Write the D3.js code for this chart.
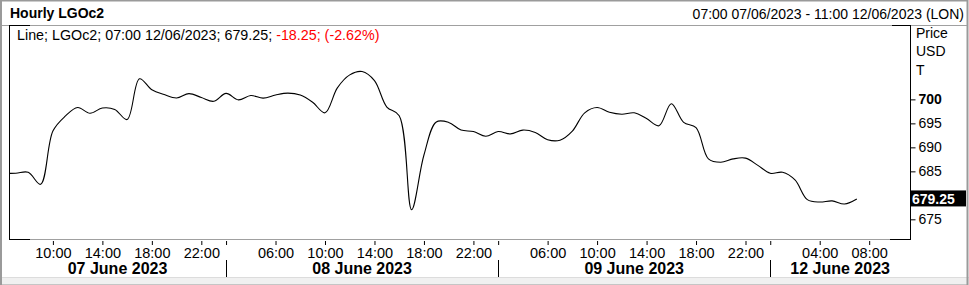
<html lang="en">
<head>
  <script src="https://d3js.org/d3.v7.min.js"></script>
  <style>
    body { margin: 0; background: white; }
    svg { font-family: Arial, "Liberation Sans", sans-serif; }
  </style>
</head>
<body>
  <svg id="chart" width="969" height="285"></svg>
  <script>
    // hourly bar index (trading hours only), -1 = 06:00 07/06 (clipped)
    const barIndex = d3.range(-1, 69);
    const prices = [
      684.6, 684.6, 684.8, 682.3, 693.4, 696.5, 698.3, 697.1, 698.2, 697.9,
      695.8, 704.3, 702.0, 701.0, 700.3, 701.2, 700.4, 699.6, 701.25, 699.9,
      700.8, 700.25, 700.9, 701.3, 700.9, 699.4, 697.2, 702.4, 705.1, 705.8,
      703.9, 698.4, 696.6, 677.0, 688.4, 695.3, 695.2, 693.6, 693.3, 692.3,
      693.3, 692.8, 693.6, 693.1, 691.6, 691.5, 693.4, 697.2, 698.3, 697.3,
      696.9, 697.2, 696.0, 694.5, 699.1, 695.2, 694.1, 687.6, 686.9, 687.6,
      687.75, 686.25, 684.6, 684.8, 683.2, 679.1, 678.6, 678.85, 678.2, 679.25
    ];

    const hourTickIdx = [3, 7, 11, 15, 21, 25, 29, 33, 37, 43, 47, 51, 55, 59, 65, 69];
    const hourTickLabels = ["10:00", "14:00", "18:00", "22:00", "06:00", "10:00", "14:00", "18:00",
                            "22:00", "06:00", "10:00", "14:00", "18:00", "22:00", "04:00", "08:00"];
    const dayBoundIdx = [17, 39, 61];
    const dayLabels = ["07 June 2023", "08 June 2023", "09 June 2023", "12 June 2023"];
    const priceTicks = [675, 685, 690, 695, 700];
    const lastPrice = 679.25;

    const svg = d3.select("#chart");
    const W = 969, H = 285;
    const plot = { left: 9, right: 910, top: 25, bottom: 239 };

    const x = d3.scaleLinear().domain([-0.55, 72.3]).range([plot.left, plot.right]);
    const y = d3.scaleLinear().domain([670.9, 715.5]).range([plot.bottom, plot.top]);

    // outer frame
    svg.append("rect").attr("x", 0).attr("y", 277).attr("width", W).attr("height", 8).attr("fill", "#f0f0f0");
    svg.append("line").attr("x1", 0).attr("x2", W).attr("y1", 277.5).attr("y2", 277.5).attr("stroke", "#dcdcdc");
    svg.append("rect").attr("x", 1).attr("y", 0.5).attr("width", W - 2.5).attr("height", H)
      .attr("fill", "none").attr("stroke", "#9a9a9a").attr("stroke-width", 2);

    // header
    svg.append("text").attr("x", 10).attr("y", 18).attr("font-size", 14).attr("font-weight", "bold")
      .text("Hourly LGOc2");
    svg.append("text").attr("x", 964).attr("y", 19).attr("font-size", 14).attr("text-anchor", "end")
      .text("07:00 07/06/2023 - 11:00 12/06/2023 (LON)");
    svg.append("line").attr("x1", 2).attr("x2", W - 2).attr("y1", 25.5).attr("y2", 25.5).attr("stroke", "#a0a0a0");

    // plot frame
    svg.append("line").attr("x1", plot.left).attr("x2", plot.right).attr("y1", plot.bottom + 0.5).attr("y2", plot.bottom + 0.5)
      .attr("stroke", "#a0a0a0");
    const blk = [
      [plot.left + 0.5, plot.top, plot.left + 0.5, plot.bottom + 1],
      [plot.right + 0.5, plot.top, plot.right + 0.5, plot.bottom + 1],
      [plot.left, plot.top + 0.5, plot.left + 21, plot.top + 0.5],
      [plot.left, plot.bottom + 0.5, plot.left + 21, plot.bottom + 0.5],
      [plot.right - 18, plot.top + 0.5, plot.right + 1, plot.top + 0.5],
      [plot.right - 20, plot.bottom + 0.5, plot.right + 1, plot.bottom + 0.5]
    ];
    svg.selectAll("line.blk").data(blk).enter().append("line").attr("class", "blk")
      .attr("x1", d => d[0]).attr("y1", d => d[1]).attr("x2", d => d[2]).attr("y2", d => d[3])
      .attr("stroke", "black");

    // legend
    const leg = svg.append("text").attr("x", 17).attr("y", 40).attr("font-size", 14.3);
    leg.append("tspan").text("Line; LGOc2; 07:00 12/06/2023; " + lastPrice.toFixed(2) + "; ");
    leg.append("tspan").attr("fill", "#ff0000").text("-18.25; (-2.62%)");

    // line
    svg.append("clipPath").attr("id", "clip").append("rect")
      .attr("x", plot.left + 1).attr("y", plot.top + 1)
      .attr("width", plot.right - plot.left - 1).attr("height", plot.bottom - plot.top - 1);
    const line = d3.line()
      .x((d, i) => x(barIndex[i]))
      .y(d => y(d))
      .curve(d3.curveCatmullRom.alpha(0.5));
    svg.append("path").attr("clip-path", "url(#clip)").datum(prices)
      .attr("d", line).attr("fill", "none").attr("stroke", "black").attr("stroke-width", 1.1);

    // y axis
    const yAxis = svg.append("g").attr("transform", "translate(" + (plot.right + 0.5) + ",0)")
      .call(d3.axisRight(y).tickValues(priceTicks).tickSize(5).tickPadding(3).tickFormat(d3.format("d")));
    yAxis.select(".domain").remove();
    yAxis.selectAll("text").attr("font-size", 14).attr("font-family", "Arial, 'Liberation Sans', sans-serif")
      .attr("fill", "black").attr("font-weight", d => d === 700 ? "bold" : "normal");
    yAxis.selectAll("line").attr("stroke", "black");

    ["Price", "USD", "T"].forEach((t, i) => {
      svg.append("text").attr("x", 916).attr("y", 38 + i * 18.3).attr("font-size", 14).text(t);
    });

    // last price box
    svg.append("rect").attr("x", plot.right).attr("y", y(lastPrice) - 8.5).attr("width", 56).attr("height", 16)
      .attr("fill", "black");
    svg.append("text").attr("x", plot.right + 2).attr("y", y(lastPrice) + 5).attr("font-size", 14)
      .attr("font-weight", "bold").attr("fill", "white").text(lastPrice.toFixed(2));

    // x axis: hours
    const xAxis = svg.append("g").attr("transform", "translate(0," + (plot.bottom + 1) + ")")
      .call(d3.axisBottom(x).tickValues(hourTickIdx).tickSize(4).tickPadding(4)
        .tickFormat((d, i) => hourTickLabels[i]));
    xAxis.select(".domain").remove();
    xAxis.selectAll("text").attr("font-size", 14.5).attr("font-family", "Arial, 'Liberation Sans', sans-serif").attr("fill", "black");
    xAxis.selectAll("line").attr("stroke", "black").attr("transform", "translate(0,1)");

    const dayAxis = svg.append("g").attr("transform", "translate(0," + (plot.bottom + 2) + ")")
      .call(d3.axisBottom(x).tickValues(dayBoundIdx).tickSize(4).tickFormat(""));
    dayAxis.select(".domain").remove();
    dayAxis.selectAll("line").attr("stroke", "black");

    svg.selectAll("line.daysep").data(dayBoundIdx).enter().append("line").attr("class", "daysep")
      .attr("x1", d => Math.round(x(d)) + 0.5).attr("x2", d => Math.round(x(d)) + 0.5)
      .attr("y1", 260).attr("y2", 277).attr("stroke", "black");

    const bounds = [plot.left].concat(dayBoundIdx.map(d => x(d)), [plot.right]);
    svg.selectAll("text.day").data(dayLabels).enter().append("text").attr("class", "day")
      .attr("x", (d, i) => (bounds[i] + bounds[i + 1]) / 2).attr("y", 274)
      .attr("text-anchor", "middle").attr("font-size", 16).attr("font-weight", "bold").text(d => d);
  </script>
</body>
</html>
